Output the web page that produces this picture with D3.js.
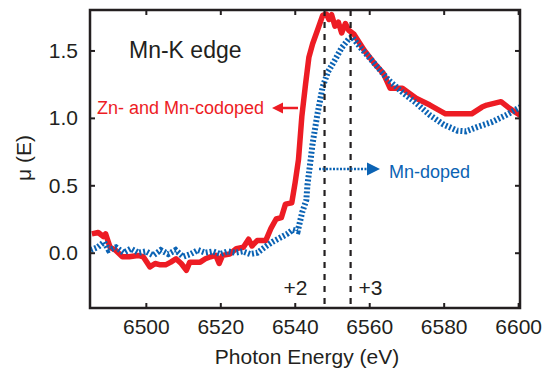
<!DOCTYPE html>
<html>
<head>
<meta charset="utf-8">
<script src="https://cdn.jsdelivr.net/npm/d3@7"></script>
<style>
  body { margin: 0; background: #fff; }
  text { font-family: "Liberation Sans", Arial, Helvetica, sans-serif; }
</style>
</head>
<body>
<div id="chart"></div>
<script>
// Mn K-edge XANES
const codopedE = [6485.5, 6487.2, 6488.6, 6489.2, 6490.4, 6491.8, 6493.7, 6495.5, 6497.9, 6499.3,
  6501.1, 6502.5, 6503.9, 6505.3, 6506.7, 6508.1, 6509.5, 6510.9, 6511.8, 6513.2,
  6514.6, 6516.0, 6517.4, 6518.8, 6519.7, 6520.6, 6522.5, 6524.3, 6526.2, 6527.6,
  6528.5, 6529.9, 6532.2, 6533.6, 6535.0, 6536.4, 6537.5, 6539.2, 6540.1, 6541.0,
  6541.9, 6542.9, 6543.8, 6544.8, 6546.1, 6547.5, 6548.5, 6549.2, 6549.9, 6550.8,
  6551.7, 6552.6, 6553.6, 6554.5, 6555.9, 6558.7, 6561.5, 6563.8, 6565.6, 6568.9,
  6572.6, 6576.3, 6580.5, 6587.5, 6590.3, 6591.6, 6595.4, 6597.7, 6600.5]
const codopedMu = [0.14, 0.15, 0.12, 0.14, 0.04, 0.02, -0.03, -0.03, -0.02, -0.03,
  -0.105, -0.08, -0.09, -0.09, -0.07, -0.045, -0.08, -0.13, -0.07, -0.07,
  -0.07, -0.045, -0.03, -0.02, -0.08, -0.02, -0.01, 0.03, 0.04, 0.10,
  0.05, 0.09, 0.09, 0.18, 0.25, 0.26, 0.36, 0.37, 0.52, 0.69,
  1.01, 1.25, 1.45, 1.55, 1.65, 1.76, 1.77, 1.73, 1.765, 1.68,
  1.71, 1.63, 1.70, 1.65, 1.62, 1.50, 1.40, 1.33, 1.22, 1.22,
  1.145, 1.095, 1.03, 1.03, 1.08, 1.095, 1.12, 1.07, 1.02]

const dopedE = [6485.2, 6487, 6488.8, 6490, 6492, 6494, 6496, 6498, 6500, 6502,
  6504, 6506, 6508, 6510, 6512, 6514, 6516, 6518, 6520, 6522,
  6524, 6526, 6528, 6530, 6532.4, 6534, 6536, 6538, 6539.4, 6540.8,
  6542, 6543.1, 6543.4, 6544.8, 6546.1, 6547.5, 6548.9, 6550.8, 6552.6, 6554.5,
  6555.4, 6557.7, 6561.5, 6565.2, 6568.9, 6572.6, 6576.3, 6580, 6583.7, 6586,
  6589.3, 6593, 6596.7, 6600.5]
const dopedMu = [0.02, 0.04, 0.08, 0.02, 0.04, 0.0, 0.03, 0.0, 0.01, -0.02,
  0.02, -0.01, 0.02, -0.03, -0.01, 0.02, 0.0, 0.01, -0.01, 0.01,
  0.0, 0.01, -0.01, 0.0, 0.05, 0.08, 0.11, 0.14, 0.17, 0.16,
  0.30, 0.39, 0.5, 0.81, 1.03, 1.23, 1.34, 1.43, 1.52, 1.585,
  1.6, 1.52, 1.40, 1.28, 1.19, 1.11, 1.02, 0.95, 0.905, 0.90,
  0.935, 0.97, 1.02, 1.08]

const xTicks = [6500, 6520, 6540, 6560, 6580, 6600]
const yTicks = [0.0, 0.5, 1.0, 1.5]
const edgeE = [6548, 6555]
const edgeLabels = ['+2', '+3']

const width = 544
const height = 369
const plotLeft = 90
const plotRight = 520
const plotTop = 10
const plotBottom = 308
const ink = '#231f20'
const red = '#ed1c24'
const blue = '#0b63b4'

const svg = d3.select('#chart')
  .append('svg')
  .attr('width', width)
  .attr('height', height)

const x = d3.scaleLinear().domain([6485, 6600.5]).range([plotLeft, plotRight])
const y = d3.scaleLinear().domain([-0.41, 1.8]).range([plotBottom, plotTop])

svg.append('clipPath')
  .attr('id', 'plot')
  .append('rect')
  .attr('x', plotLeft)
  .attr('y', plotTop)
  .attr('width', plotRight - plotLeft)
  .attr('height', plotBottom - plotTop)

const line = d3.line()
  .x(d => x(d[0]))
  .y(d => y(d[1]))

const plot = svg.append('g').attr('clip-path', 'url(#plot)')

plot.append('path')
  .datum(d3.zip(codopedE, codopedMu))
  .attr('d', line)
  .attr('fill', 'none')
  .attr('stroke', red)
  .attr('stroke-width', 5.5)
  .attr('stroke-linejoin', 'round')

plot.append('path')
  .datum(d3.zip(dopedE, dopedMu))
  .attr('d', line)
  .attr('fill', 'none')
  .attr('stroke', blue)
  .attr('stroke-width', 6)
  .attr('stroke-dasharray', '2,2')

// oxidation state markers
plot.selectAll('.edge')
  .data(edgeE)
  .enter()
  .append('line')
  .attr('x1', d => x(d))
  .attr('x2', d => x(d))
  .attr('y1', plotTop)
  .attr('y2', plotBottom)
  .attr('stroke', ink)
  .attr('stroke-width', 2.2)
  .attr('stroke-dasharray', '6,6')

svg.selectAll('.edge-label')
  .data(edgeLabels)
  .enter()
  .append('text')
  .attr('x', (d, i) => i === 0 ? x(edgeE[0]) - 17 : x(edgeE[1]) + 8)
  .attr('y', 295)
  .attr('text-anchor', (d, i) => i === 0 ? 'end' : 'start')
  .style('font-size', '21px')
  .style('fill', ink)
  .text(d => d)

// axes, ticks pointing inward on all four sides
const styleAxis = g => {
  g.select('.domain').remove()
  g.selectAll('line').attr('stroke', ink).attr('stroke-width', 2)
  g.selectAll('text').style('font-size', '21px').style('fill', ink)
    .style('font-family', '"Liberation Sans", Arial, Helvetica, sans-serif')
}

svg.append('g')
  .attr('transform', 'translate(0,' + plotBottom + ')')
  .call(d3.axisBottom(x).tickValues(xTicks).tickSize(-5).tickPadding(11).tickFormat(d3.format('d')))
  .call(styleAxis)

svg.append('g')
  .attr('transform', 'translate(0,' + plotTop + ')')
  .call(d3.axisTop(x).tickValues(xTicks).tickSize(-5).tickFormat(''))
  .call(styleAxis)

svg.append('g')
  .attr('transform', 'translate(' + plotLeft + ',0)')
  .call(d3.axisLeft(y).tickValues(yTicks).tickSize(-5).tickPadding(12).tickFormat(d3.format('.1f')))
  .call(styleAxis)

svg.append('g')
  .attr('transform', 'translate(' + plotRight + ',0)')
  .call(d3.axisRight(y).tickValues(yTicks).tickSize(-5).tickFormat(''))
  .call(styleAxis)

svg.append('rect')
  .attr('x', plotLeft)
  .attr('y', plotTop)
  .attr('width', plotRight - plotLeft)
  .attr('height', plotBottom - plotTop)
  .attr('fill', 'none')
  .attr('stroke', ink)
  .attr('stroke-width', 2.5)

// titles
svg.append('text')
  .attr('x', (plotLeft + plotRight) / 2 + 2)
  .attr('y', 364)
  .attr('text-anchor', 'middle')
  .style('font-size', '21px')
  .style('fill', ink)
  .text('Photon Energy (eV)')

svg.append('text')
  .attr('transform', 'translate(31,158) rotate(-90)')
  .attr('text-anchor', 'middle')
  .style('font-size', '21px')
  .style('fill', ink)
  .text('μ (E)')

svg.append('text')
  .attr('x', 129)
  .attr('y', 58)
  .style('font-size', '23px')
  .style('fill', ink)
  .text('Mn-K edge')

// series labels with arrows
svg.append('text')
  .attr('x', 97)
  .attr('y', 114)
  .style('font-size', '18px')
  .style('fill', red)
  .text('Zn- and Mn-codoped')

svg.append('line')
  .attr('x1', 298).attr('x2', 280)
  .attr('y1', 108).attr('y2', 108)
  .attr('stroke', red)
  .attr('stroke-width', 2.5)

svg.append('path')
  .attr('d', 'M272,108L283,102.5L283,113.5Z')
  .attr('fill', red)

svg.append('text')
  .attr('x', 389)
  .attr('y', 178)
  .style('font-size', '18px')
  .style('fill', blue)
  .text('Mn-doped')

svg.append('line')
  .attr('x1', 319).attr('x2', 368)
  .attr('y1', 169).attr('y2', 169)
  .attr('stroke', blue)
  .attr('stroke-width', 2.5)
  .attr('stroke-dasharray', '2,1.5')

svg.append('path')
  .attr('d', 'M380,169L367,162.5L367,175.5Z')
  .attr('fill', blue)
</script>
</body>
</html>
